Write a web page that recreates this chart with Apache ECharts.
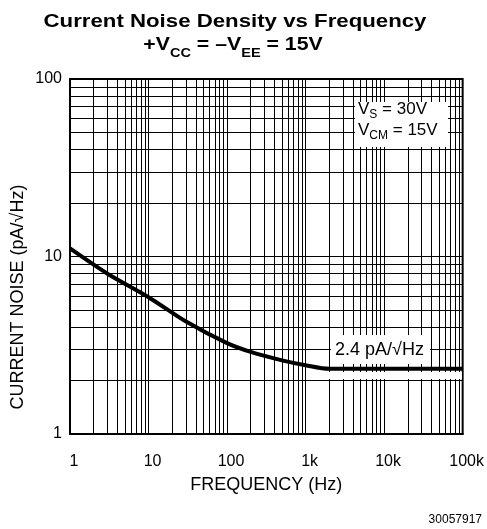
<!DOCTYPE html>
<html><head><meta charset="utf-8">
<script src="https://cdn.jsdelivr.net/npm/echarts@6/dist/echarts.min.js"></script>
<style>html,body{margin:0;padding:0;background:#fff}#c{width:487px;height:529px}</style>
</head><body><div id="c"></div>
<script>
// ---- data ----
const freqHz  = [1, 3, 10, 30, 100, 200, 500, 1000, 2000, 10000, 100000];
const noisePa = [11.1, 8.0, 5.9, 4.3, 3.25, 2.9, 2.6, 2.44, 2.33, 2.33, 2.33];
const xTickValues = [1, 10, 100, 1000, 10000, 100000];
const xTickLabels = ['1', '10', '100', '1k', '10k', '100k'];
const yTickValues = [1, 10, 100];
const yTickLabels = ['1', '10', '100'];
const xDecades = [1, 10, 100, 1000, 10000];
const yDecades = [1, 10];
const minorMultipliers = [2, 3, 4, 5, 6, 7, 8, 9];

const FONT = "'Liberation Sans', Arial, Helvetica, sans-serif";

const minorLines = [];
xDecades.forEach(d => minorMultipliers.forEach(m => minorLines.push({ xAxis: d * m })));
yDecades.forEach(d => minorMultipliers.forEach(m => minorLines.push({ yAxis: d * m })));

function labelFor(values, labels) {
  return v => {
    const i = values.findIndex(t => Math.abs(t - v) / t < 1e-6);
    return i >= 0 ? labels[i] : '';
  };
}

const chart = echarts.init(document.getElementById('c'), null, { renderer: 'canvas' });
chart.setOption({
  animation: false,
  backgroundColor: '#fff',
  grid: { left: 70, top: 79, width: 393, height: 355, show: true, borderColor: '#000', borderWidth: 2, backgroundColor: 'transparent' },
  xAxis: {
    type: 'log', logBase: 10, min: 1, max: 100000,
    name: 'FREQUENCY (Hz)', nameLocation: 'middle', nameGap: 42,
    nameTextStyle: { fontFamily: FONT, fontSize: 18, color: '#000' },
    axisLine: { show: true, lineStyle: { color: '#000', width: 2 } },
    axisTick: { show: false },
    axisLabel: { formatter: labelFor(xTickValues, xTickLabels), fontFamily: FONT, fontSize: 16, color: '#000', margin: 20, padding: [0, 0, 0, 8] },
    splitLine: { show: true, lineStyle: { color: '#000', width: 1 } }
  },
  yAxis: {
    type: 'log', logBase: 10, min: 1, max: 100,
    axisLine: { show: true, lineStyle: { color: '#000', width: 2 } },
    axisTick: { show: false },
    axisLabel: { formatter: labelFor(yTickValues, yTickLabels), fontFamily: FONT, fontSize: 16, color: '#000', margin: 8, padding: [8, 0, 0, 0] },
    splitLine: { show: true, lineStyle: { color: '#000', width: 1 } }
  },
  series: [
    {
      type: 'line', data: [], z: 1, silent: true,
      markLine: {
        silent: true, symbol: 'none', animation: false,
        label: { show: false },
        lineStyle: { color: '#000', width: 1, type: 'solid' },
        emphasis: { disabled: true },
        data: minorLines
      }
    },
    {
      type: 'line', z: 5, symbol: 'none', smooth: 0.3,
      data: freqHz.map((f, i) => [f, noisePa[i]]),
      lineStyle: { color: '#000', width: 4 }
    }
  ],
  graphic: [
    { type: 'text', x: 235, y: 22, scaleX: 1.17, z: 100,
      style: { text: 'Current Noise Density vs Frequency', font: "bold 19px " + FONT, fill: '#000', align: 'center', verticalAlign: 'middle' } },
    { type: 'text', x: 233, y: 35, scaleX: 1.12, z: 100,
      style: { text: '{n|+V}{s|CC}{n| = –V}{s|EE}{n| = 15V}', align: 'center', verticalAlign: 'top', fill: '#000',
        rich: {
          n: { fontFamily: FONT, fontSize: 19, fontWeight: 'bold', lineHeight: 22, verticalAlign: 'top' },
          s: { fontFamily: FONT, fontSize: 13, fontWeight: 'bold', lineHeight: 14, verticalAlign: 'top', padding: [12, 0, 0, 0] }
        } } },
    { type: 'text', x: 18, y: 297, rotation: Math.PI / 2, z: 100,
      style: { text: 'CURRENT NOISE (pA/√Hz)', font: "18px " + FONT, fill: '#000', align: 'center', verticalAlign: 'middle' } },
    { type: 'rect', z: 100, shape: { x: 355, y: 102, width: 93, height: 45 }, style: { fill: '#fff' } },
    { type: 'text', x: 358, y: 101, z: 101,
      style: { text: '{n|V}{s|S}{n| = 30V}', align: 'left', verticalAlign: 'top', fill: '#000',
        rich: {
          n: { fontFamily: FONT, fontSize: 17, lineHeight: 20, verticalAlign: 'top' },
          s: { fontFamily: FONT, fontSize: 12, lineHeight: 12, verticalAlign: 'top', padding: [8, 0, 0, 0] }
        } } },
    { type: 'text', x: 358, y: 122, z: 101,
      style: { text: '{n|V}{s|CM}{n| = 15V}', align: 'left', verticalAlign: 'top', fill: '#000',
        rich: {
          n: { fontFamily: FONT, fontSize: 17, lineHeight: 20, verticalAlign: 'top' },
          s: { fontFamily: FONT, fontSize: 12, lineHeight: 12, verticalAlign: 'top', padding: [8, 0, 0, 0] }
        } } },
    { type: 'rect', z: 100, shape: { x: 331, y: 335, width: 99, height: 29 }, style: { fill: '#fff' } },
    { type: 'text', x: 335, y: 350, z: 101,
      style: { text: '2.4 pA/√Hz', font: "18px " + FONT, fill: '#000', align: 'left', verticalAlign: 'middle' } },
    { type: 'rect', z: 100, shape: { x: 329, y: 372, width: 133, height: 7 }, style: { fill: '#fff' } },
    { type: 'text', x: 482, y: 520, z: 100,
      style: { text: '30057917', font: "12px " + FONT, fill: '#000', align: 'right', verticalAlign: 'middle' } }
  ]
});
</script>
</body></html>
